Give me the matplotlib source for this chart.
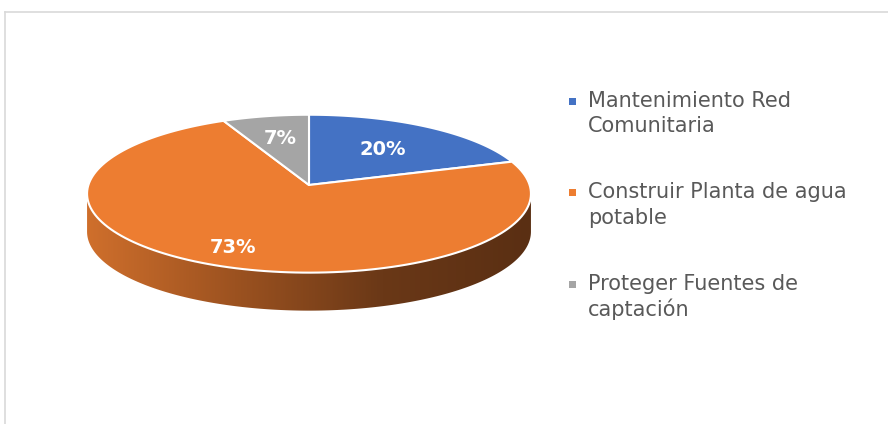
import numpy as np
import matplotlib
matplotlib.use("Agg")
import matplotlib.pyplot as plt
from matplotlib.patches import Polygon, Rectangle
from matplotlib.colors import LinearSegmentedColormap

plt.rcParams['font.family'] = ['DejaVu Sans']

# datos
categorias = ['Mantenimiento Red\nComunitaria',
              'Construir Planta de agua\npotable',
              'Proteger Fuentes de\ncaptación']
valores = [20, 73, 7]
etiquetas = ['20%', '73%', '7%']
colores = ['#4472c4', '#ed7d31', '#a5a5a5']

# geometria del pastel 3D (en pixeles)
cx, cy = 309, 185
sx, sy = 220.6, 78
k = 0.11          # perspectiva
prof = 38         # grosor del pastel


def proyectar(t, r=1.0):
    x = r * np.cos(t)
    z = r * np.sin(t)
    d = 1 + k * z
    return cx + sx * x / d, cy - sy * z / d


fig = plt.figure(figsize=(8.88, 4.24), dpi=100)
ax = fig.add_axes([0, 0, 1, 1])
ax.set_xlim(0, 888)
ax.set_ylim(424, 0)
ax.axis('off')

# marco del grafico
ax.plot([5, 888], [12, 12], color='#d9d9d9', lw=1.2)
ax.plot([5, 5], [12, 424], color='#d9d9d9', lw=1.2)

# lado (cara frontal)
t_front = np.linspace(np.pi + np.arcsin(k), 2 * np.pi - np.arcsin(k), 200)
fx, fy = proyectar(t_front)
lado = np.column_stack([np.concatenate([fx, fx[::-1]]),
                        np.concatenate([fy, fy[::-1] + prof])])
poly_lado = Polygon(lado, closed=True, facecolor='none', edgecolor='none')
ax.add_patch(poly_lado)
cmap = LinearSegmentedColormap.from_list('lado', ['#cf6f2c', '#9c5220', '#6a3817', '#5a2f13'])
grad = np.linspace(0, 1, 256).reshape(1, -1)
im = ax.imshow(grad, cmap=cmap, extent=[fx.min(), fx.max(), fy.max() + prof, fy.min()],
               aspect='auto', zorder=1)
im.set_clip_path(poly_lado)

# cara superior
inicio = np.pi / 2
angulos = []
for v in valores:
    fin = inicio - 2 * np.pi * v / 100
    angulos.append((inicio, fin))
    inicio = fin

for (a0, a1), col in zip(angulos, colores):
    t = np.linspace(a0, a1, 150)
    px, py = proyectar(t)
    pts = np.column_stack([np.concatenate([[cx], px]), np.concatenate([[cy], py])])
    ax.add_patch(Polygon(pts, closed=True, facecolor=col, edgecolor='white',
                         lw=1.5, joinstyle='round', zorder=2))

# etiquetas de datos
radios = [0.6, 0.8, 0.65]
for (a0, a1), txt, r in zip(angulos, etiquetas, radios):
    lx, ly = proyectar((a0 + a1) / 2, r)
    ax.text(lx, ly, txt, color='white', fontsize=14, fontweight='bold',
            ha='center', va='center', zorder=3)

# leyenda
ley_y = [107, 198, 290]
for cat, col, y0 in zip(categorias, colores, ley_y):
    ax.add_patch(Rectangle((568.5, y0 - 9.5), 7, 7, facecolor=col, edgecolor='none'))
    for i, linea in enumerate(cat.split('\n')):
        ax.text(588, y0 + i * 25.5, linea, color='#595959', fontsize=15,
                ha='left', va='baseline')

fig.savefig('out.png', dpi=100)
